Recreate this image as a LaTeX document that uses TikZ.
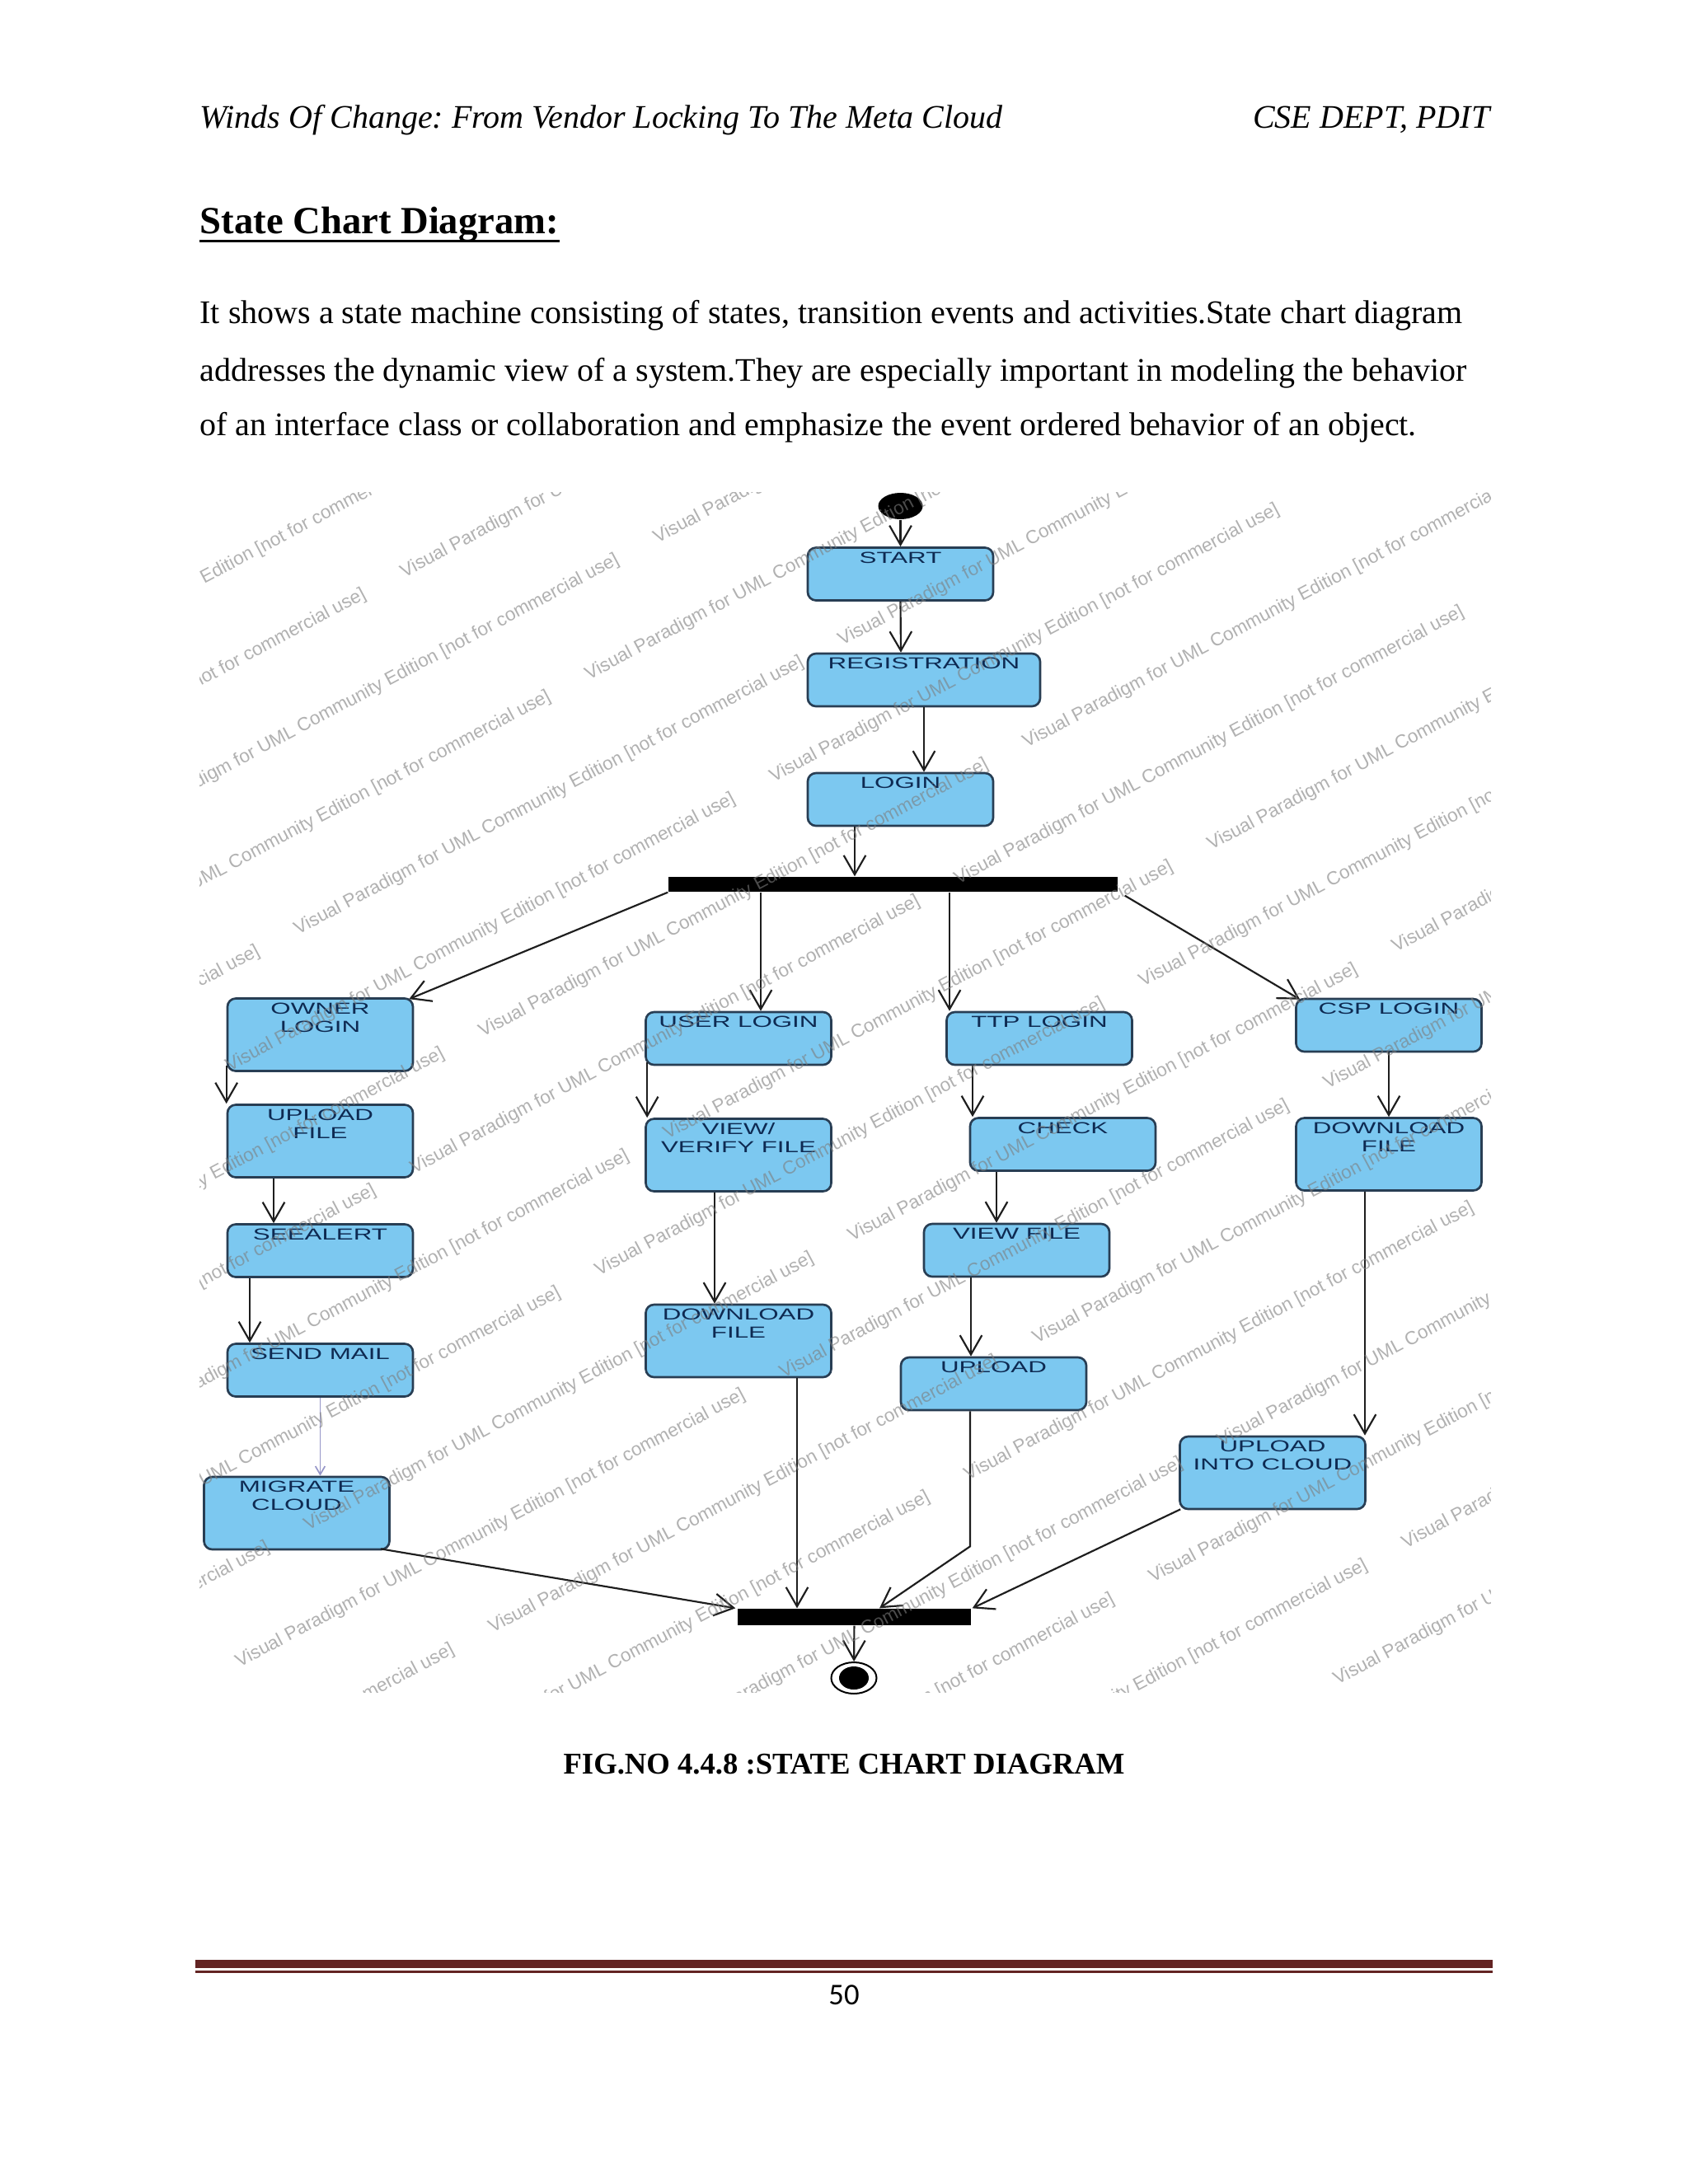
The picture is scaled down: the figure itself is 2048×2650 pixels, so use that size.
\documentclass[tikz,border=0pt]{standalone}
\usepackage{fontspec}
\setmainfont{Liberation Serif}
\newfontfamily\arialfont{Liberation Sans}
\newfontfamily\calibrifont{Carlito}
\usepackage{xcolor}
\usepackage{tikz}
\usetikzlibrary{arrows.meta,shapes.geometric,calc}
\definecolor{stateFill}{RGB}{124,200,240}
\definecolor{stateBorder}{RGB}{40,62,84}
\definecolor{stateInk}{RGB}{14,42,82}
\definecolor{flowInk}{RGB}{30,30,30}
\definecolor{mailInk}{RGB}{150,150,200}
\definecolor{footerRed}{RGB}{99,36,35}
\definecolor{wmGray}{RGB}{125,125,125}
\newcommand{\statefont}{\arialfont\fontsize{5.8}{6.6}\selectfont}
\newcommand{\wmfont}{\arialfont\fontsize{6.8}{8}\selectfont}
\tikzset{
  statebox/.style={
    rectangle, rounded corners=3pt, draw=stateBorder, line width=0.8pt,
    fill=stateFill, minimum width=67.5pt, minimum height=19.2pt, inner sep=0pt
  },
  tallbox/.style={minimum height=26.4pt},
  statename/.style={label={[statelabel]north:{#1}}},
  statelabel/.style={
    anchor=north, yshift=-1.7pt, inner sep=0pt, align=center,
    text=stateInk, font=\statefont, xscale=1.62
  },
  syncbar/.style={rectangle, fill=black, inner sep=0pt, minimum height=5.4pt},
  initstate/.style={ellipse, fill=black, inner sep=0pt, minimum width=16.2pt, minimum height=9.6pt},
  finalring/.style={ellipse, draw=black, line width=0.6pt, fill=white, inner sep=0pt,
    minimum width=16.5pt, minimum height=11.4pt},
  finaldot/.style={ellipse, fill=black, inner sep=0pt, minimum width=10.8pt, minimum height=8.4pt},
  flowArrow/.style={draw=flowInk, line width=0.65pt, -{Straight Barb[length=7pt,width=8pt]}},
  mailArrow/.style={draw=mailInk, line width=0.5pt, -{Straight Barb[length=3pt,width=3.5pt]}},
  pagetext/.style={inner sep=0pt, anchor=base west, font=\fontsize{12}{14}\selectfont},
  watermark/.style={inner sep=0pt, anchor=base west, rotate=28, font=\wmfont,
    text=wmGray, text opacity=0.6}
}

\begin{document}
\frenchspacing
\begin{tikzpicture}[x=0.010542cm, y=-0.010542cm]
  \useasboundingbox (0,0) rectangle (2048,2650);
  \fill[white] (0,0) rectangle (2048,2650);

  % page text
  \node[pagetext, font=\fontsize{12}{14}\itshape] (hdrleft) at (242,155)
    {Winds Of Change: From Vendor Locking To The Meta Cloud};
  \node[pagetext, anchor=base east, font=\fontsize{12}{14}\itshape] (hdrright) at (1808,155)
    {CSE DEPT, PDIT};
  \node[pagetext, font=\fontsize{14}{17}\bfseries] (title) at (242,283) {State Chart Diagram:};
  \draw[line width=0.9pt] ([yshift=-2.7pt]title.base west) -- ([yshift=-2.7pt]title.base east);
  \node[pagetext] (body1) at (242,392)
    {It shows a state machine consisting of states, transition events and activities.State chart diagram};
  \node[pagetext] (body2) at (242,462)
    {addresses the dynamic view of a system.They are especially important in modeling the behavior};
  \node[pagetext] (body3) at (242,528)
    {of an interface class or collaboration and emphasize the event ordered behavior of an object.};

  % states
  \node[initstate] (init) at (1092.5,614) {};
  \node[statebox, statename=START] (start) at (1092.5,696.5) {};
  \node[statebox, minimum width=84.6pt, statename=REGISTRATION] (reg) at (1121,825) {};
  \node[statebox, statename=LOGIN] (login) at (1092.5,970) {};
  \node[syncbar, minimum width=163.5pt] (fork) at (1083.5,1073) {};

  \node[statebox, tallbox, statename={OWNER\\LOGIN}] (owner) at (388.5,1255.5) {};
  \node[statebox, tallbox, statename={UPLOAD\\FILE}] (uploadf) at (388.5,1384.5) {};
  \node[statebox, statename=SEEALERT] (seealert) at (388.5,1517.5) {};
  \node[statebox, statename={SEND MAIL}] (sendmail) at (388.5,1662.5) {};
  \node[statebox, tallbox, statename={MIGRATE\\CLOUD}] (migrate) at (360,1836) {};

  \node[statebox, statename={USER LOGIN}] (userlogin) at (896,1260) {};
  \node[statebox, tallbox, statename={VIEW/\\VERIFY FILE}] (verify) at (896,1401.5) {};
  \node[statebox, tallbox, statename={DOWNLOAD\\FILE}] (downuser) at (896,1627) {};

  \node[statebox, statename={TTP LOGIN}] (ttp) at (1261,1260) {};
  \node[statebox, statename=CHECK] (check) at (1289.5,1388.5) {};
  \node[statebox, statename={VIEW FILE}] (viewfile) at (1233.5,1517) {};
  \node[statebox, statename=UPLOAD] (uploadttp) at (1205.5,1679) {};

  \node[statebox, statename={CSP LOGIN}] (csp) at (1685,1244) {};
  \node[statebox, tallbox, statename={DOWNLOAD\\FILE}] (downcsp) at (1685,1400.5) {};
  \node[statebox, tallbox, statename={UPLOAD\\INTO CLOUD}] (intocloud) at (1544,1787) {};

  \node[syncbar, minimum width=84.9pt, minimum height=6pt] (join) at (1036.5,1962) {};
  \node[finalring] (final) at (1036,2036) {};
  \node[finaldot] (finaldot) at (final) {};

  % transitions
  \draw[flowArrow] (init) -- (start);
  \draw[flowArrow] (start.south) -- ($(reg.north)+(-28,0)$);
  \draw[flowArrow] (reg.south) -- ($(login.north)+(28.5,0)$);
  \draw[flowArrow] ($(login.south)+(-55.5,0)$) -- ($(fork.north)+(-46.5,0)$);
  \draw[flowArrow] (fork.south west) -- ($(owner.north east)+(-6,2)$);
  \draw[flowArrow] ($(fork.south)+(-160.5,0)$) -- ($(userlogin.north)+(27,0)$);
  \draw[flowArrow] ($(fork.south)+(68.5,0)$) -- ($(ttp.north)+(-109,0)$);
  \draw[flowArrow] ($(fork.south east)+(8,4)$) -- ($(csp.north west)+(6,2)$);

  \draw[flowArrow] ($(owner.south west)+(0,-8)$) -- (uploadf.north west);
  \draw[flowArrow] ($(uploadf.south)+(-56.5,0)$) -- ($(seealert.north)+(-56.5,0)$);
  \draw[flowArrow] ($(seealert.south)+(-85.5,0)$) -- ($(sendmail.north)+(-85.5,0)$);
  \draw[mailArrow] (sendmail.south) -- ($(migrate.north)+(28.5,0)$);

  \draw[flowArrow] ($(userlogin.south west)+(3,-4)$) -- ($(verify.north west)+(3,0)$);
  \draw[flowArrow] ($(verify.south)+(-29,0)$) -- ($(downuser.north)+(-29,0)$);

  \draw[flowArrow] ($(ttp.south)+(-81,0)$) -- ($(check.north)+(-109.5,0)$);
  \draw[flowArrow] ($(check.south)+(-80.5,0)$) -- ($(viewfile.north)+(-24.5,0)$);
  \draw[flowArrow] ($(viewfile.south)+(-55.5,0)$) -- ($(uploadttp.north)+(-27.5,0)$);

  \draw[flowArrow] (csp) -- (downcsp);
  \draw[flowArrow] ($(downcsp.south)+(-29,0)$) -- ($(intocloud.north)+(112,0)$);

  \draw[flowArrow] ($(migrate.south east)+(-12,-2)$) -- ($(join.north west)+(-2,0)$);
  \draw[flowArrow] ($(downuser.south)+(71,0)$) -- ($(join.north)+(-69.5,0)$);
  \draw[flowArrow] ($(uploadttp.south)+(-28.5,0)$) -- ++(0,164) -- ($(join.north)+(30.5,0)$);
  \draw[flowArrow] ($(intocloud.south west)+(2,-1)$) -- ($(join.north east)+(1,0)$);
  \draw[flowArrow] (join) -- (final);

  % tool watermark over the diagram, only the copies that show
  \begin{scope}
    \clip (242,597) rectangle (1808,2053);
    \foreach \k in {-1,...,17}{
      \foreach \j in {-3,...,3}{
        \pgfmathsetmacro\wc{962+121.6*\k}
        \pgfmathsetmacro\wx{490+112*\k+195*mod(\k+10,2)+660*\j}
        \pgfmathsetmacro\wy{\wc-0.5317*\wx}
        \pgfmathsetmacro\wlo{max(242,(\wc-2053)/0.5317,\wx)}
        \pgfmathsetmacro\whi{min(1808,(\wc-597)/0.5317,\wx+600)}
        \ifdim\wlo pt<\whi pt
          \node[watermark] (wm-\k-\j) at (\wx,\wy)
            {Visual Paradigm for UML Community Edition [not for commercial use]};
        \fi
      }
    }
  \end{scope}

  % caption and footer
  \node[pagetext, anchor=base, font=\fontsize{11}{13}\bfseries] (caption) at (1024,2152)
    {FIG.NO 4.4.8 :STATE CHART DIAGRAM};
  \fill[footerRed] (237,2378) rectangle (1811,2388);
  \fill[footerRed] (237,2391) rectangle (1811,2393.5);
  \node[pagetext, anchor=base, font=\calibrifont\fontsize{11}{13}\selectfont] (pagenum) at (1024,2432) {50};
\end{tikzpicture}
\end{document}
